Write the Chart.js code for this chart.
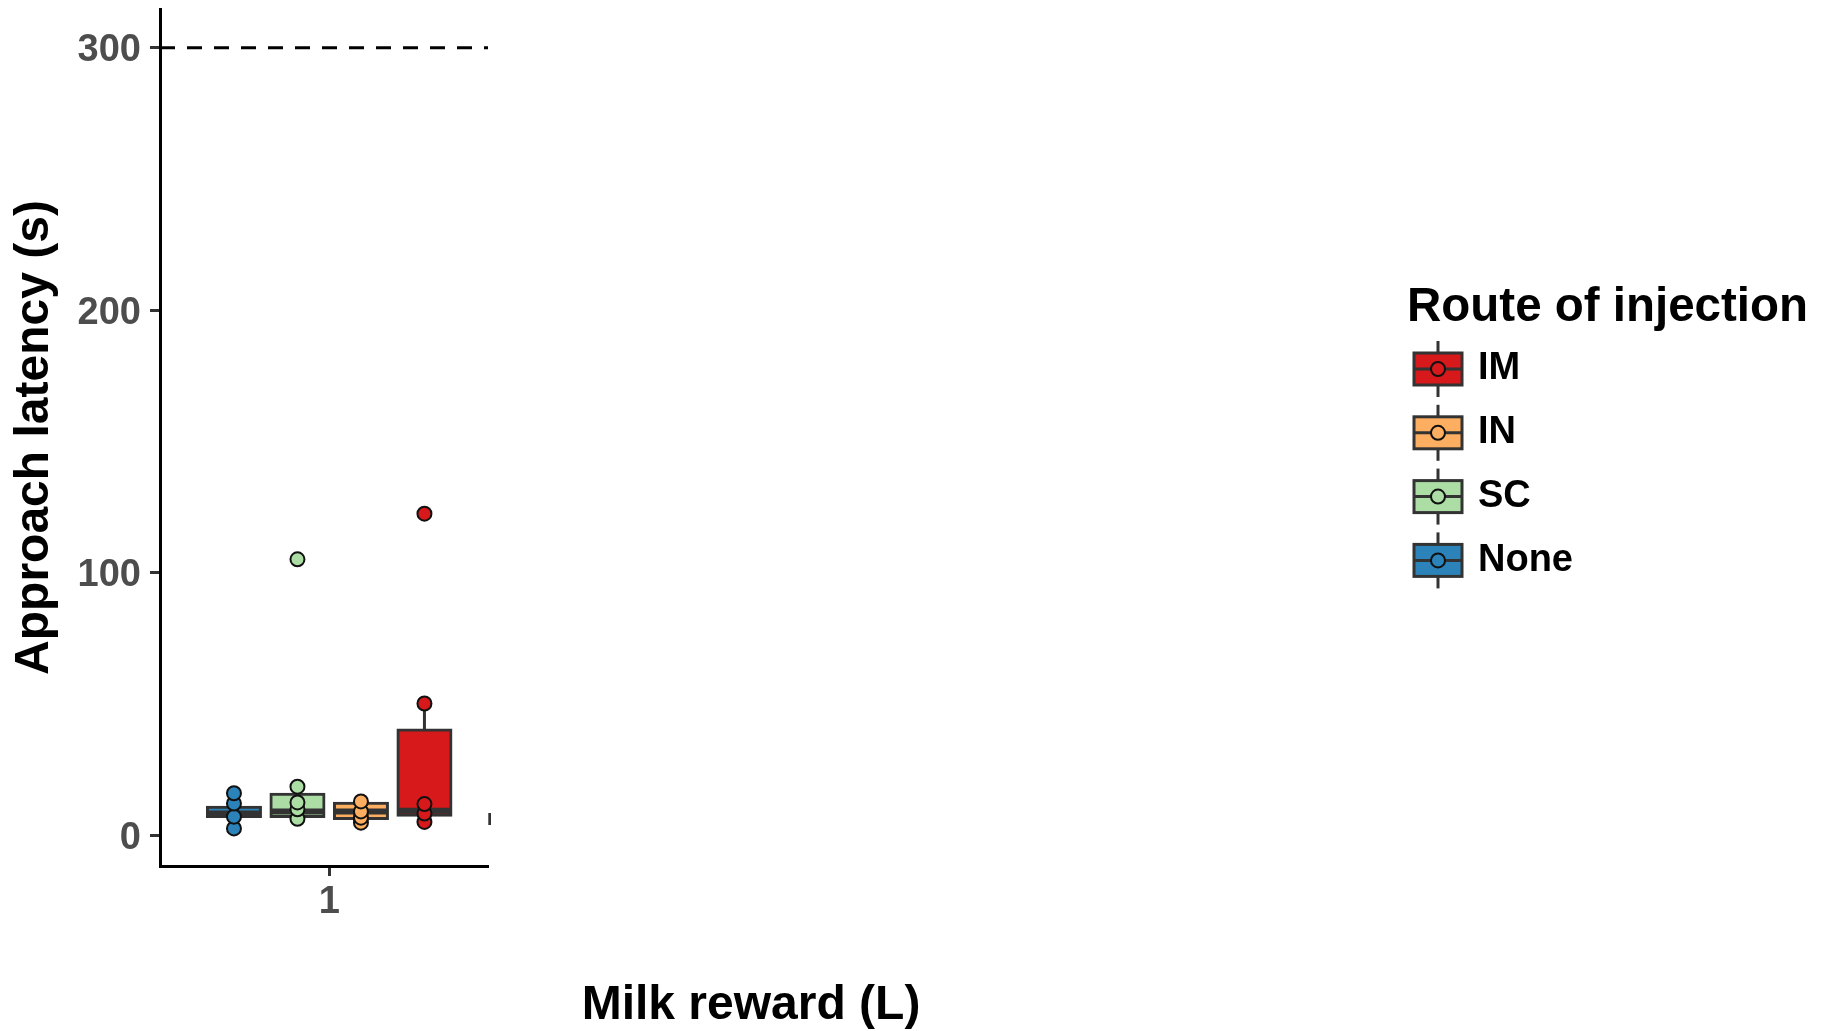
<!DOCTYPE html>
<html>
<head>
<meta charset="utf-8">
<title>Approach latency by route of injection</title>
<script src="https://cdn.jsdelivr.net/npm/chart.js@4/dist/chart.umd.min.js"></script>
<style>
  html, body { margin: 0; padding: 0; background: #ffffff; }
  canvas { display: block; }
</style>
</head>
<body>
<canvas id="chart" width="1829" height="1031"></canvas>
<script>
// Milk reward levels on the x axis (level 2 only starts at the right edge of the panel)
const milkReward = [1, 2];

// Injection routes, in dodge order from left to right
const routes = ['None', 'SC', 'IN', 'IM'];
const legendOrder = ['IM', 'IN', 'SC', 'None'];

// Box statistics at milk reward 1 (seconds), one entry per route
const boxLower    = [7.3, 7.3, 6.5, 7.7];
const boxMedian   = [8.4, 9.2, 9.2, 9.4];
const boxUpper    = [10.8, 15.7, 12.3, 40.2];
const whiskerLow  = [2.7, 6.4, 4.9, 5.2];
const whiskerHigh = [16.1, 18.6, 13.0, 50.3];

// Individual approach latencies at milk reward 1 (seconds)
const latNone = [2.7, 7.2, 12.2, 16.1];
const latSC   = [6.4, 10.0, 12.6, 18.6, 105.2];
const latIN   = [4.9, 6.8, 9.2, 13.0];
const latIM   = [5.2, 8.4, 12.0, 50.3, 122.6];

// Hinges of the None box at milk reward 2
const noneBoxReward2 = [4.6, 8.0];

// Test cut-off time (seconds)
const latencyCap = 300;

// Axis ticks and visible ranges
const yTicks = [0, 100, 200, 300];
const xTicks = [1];
const xRange = [0.4004, 1.5627];
const yRange = [-11.6, 314.8];

// ---------------------------------------------------------------------------
const FONT = "'Liberation Sans', Arial, Helvetica, sans-serif";
const EDGE = '#333333';
const routeColors = ['#2b83ba', '#abdda4', '#fdae61', '#d7191c'];
const pointSets = [latNone, latSC, latIN, latIM];
const dodgeStep = 0.225;
const xPos = (reward, i) => reward + (i - (routes.length - 1) / 2) * dodgeStep;

const datasets = [];

// dashed reference line at the cut-off
datasets.push({
  type: 'line',
  label: 'cut-off',
  data: [{ x: xRange[0], y: latencyCap }, { x: xRange[1], y: latencyCap }],
  borderColor: '#000000',
  borderWidth: 3,
  borderDash: [15, 12],
  pointRadius: 0,
  order: 4,
  clip: 2
});

// boxes (lower hinge to upper hinge); inflateAmount centres the outline on the hinge
routes.forEach((r, i) => {
  const data = [{ x: xPos(milkReward[0], i), y: [boxLower[i], boxUpper[i]] }];
  if (r === 'None') data.push({ x: xPos(milkReward[1], i), y: noneBoxReward2 });
  datasets.push({
    type: 'bar',
    label: r,
    data,
    backgroundColor: routeColors[i],
    borderColor: EDGE,
    borderWidth: 3,
    borderSkipped: false,
    inflateAmount: 1.5,
    barThickness: 53,
    grouped: false,
    order: 2,
    clip: { left: 0, top: 0, right: 3, bottom: 0 }
  });
});

// individual observations
routes.forEach((r, i) => {
  datasets.push({
    type: 'scatter',
    label: r + ' observations',
    data: pointSets[i].map(v => ({ x: xPos(milkReward[0], i), y: v })),
    pointRadius: 7,
    pointBorderWidth: 2,
    pointBorderColor: '#111111',
    pointBackgroundColor: routeColors[i],
    order: 1,
    clip: 10
  });
});

// whiskers under the boxes, thick medians on top of them
const boxplotParts = {
  id: 'boxplotParts',
  beforeDatasetsDraw(chart) {
    const { ctx, scales: { x, y } } = chart;
    ctx.save();
    ctx.strokeStyle = EDGE;
    ctx.lineWidth = 3;
    routes.forEach((r, i) => {
      const px = x.getPixelForValue(xPos(milkReward[0], i));
      ctx.beginPath();
      ctx.moveTo(px, y.getPixelForValue(whiskerLow[i]));
      ctx.lineTo(px, y.getPixelForValue(whiskerHigh[i]));
      ctx.stroke();
    });
    ctx.restore();
  },
  afterDatasetDraw(chart, args) {
    const ds = chart.data.datasets[args.index];
    if (ds.type !== 'bar') return;
    const i = routes.indexOf(ds.label);
    const bar = args.meta.data[0];
    const half = bar.width / 2;
    const py = chart.scales.y.getPixelForValue(boxMedian[i]);
    const ctx = chart.ctx;
    ctx.save();
    ctx.strokeStyle = EDGE;
    ctx.lineWidth = 6;
    ctx.lineCap = 'butt';
    ctx.beginPath();
    ctx.moveTo(bar.x - half, py);
    ctx.lineTo(bar.x + half, py);
    ctx.stroke();
    ctx.restore();
  }
};

// x-axis title and the route legend
const titlesAndLegend = {
  id: 'titlesAndLegend',
  afterDraw(chart) {
    const ctx = chart.ctx;
    ctx.save();
    ctx.fillStyle = '#000000';
    ctx.textBaseline = 'alphabetic';
    ctx.font = `bold 48px ${FONT}`;
    ctx.textAlign = 'center';
    ctx.fillText('Milk reward (L)', 751, 1019);
    ctx.font = `bold 47.5px ${FONT}`;
    ctx.textAlign = 'left';
    ctx.fillText('Route of injection', 1407, 321);
    ctx.restore();

    legendOrder.forEach((name, k) => {
      const i = routes.indexOf(name);
      const cx = 1438;
      const cy = 369 + k * 63.8;
      ctx.save();
      ctx.strokeStyle = EDGE;
      ctx.lineWidth = 3;
      // whisker
      ctx.beginPath();
      ctx.moveTo(cx, cy - 28);
      ctx.lineTo(cx, cy + 28);
      ctx.stroke();
      // box
      ctx.fillStyle = routeColors[i];
      ctx.fillRect(cx - 24, cy - 16, 48, 32);
      ctx.strokeRect(cx - 24, cy - 16, 48, 32);
      // median
      ctx.beginPath();
      ctx.moveTo(cx - 24, cy);
      ctx.lineTo(cx + 24, cy);
      ctx.stroke();
      // point
      ctx.beginPath();
      ctx.arc(cx, cy, 7, 0, Math.PI * 2);
      ctx.fillStyle = routeColors[i];
      ctx.fill();
      ctx.lineWidth = 2;
      ctx.strokeStyle = '#111111';
      ctx.stroke();
      // label
      ctx.font = `bold 38px ${FONT}`;
      ctx.fillStyle = '#000000';
      ctx.textAlign = 'left';
      ctx.textBaseline = 'middle';
      ctx.fillText(name, 1478, cy);
      ctx.restore();
    });
  }
};

const axisGrid = {
  display: true,
  drawOnChartArea: false,
  drawTicks: true,
  tickLength: 10,
  tickWidth: 3,
  tickColor: EDGE,
  offset: false
};
const axisBorder = { display: true, color: '#000000', width: 3 };
const tickFont = { family: FONT, size: 38, weight: 'bold' };

new Chart(document.getElementById('chart'), {
  type: 'bar',
  data: { datasets },
  options: {
    responsive: false,
    animation: false,
    devicePixelRatio: 1,
    events: [],
    layout: { padding: { top: 8, right: 1829 - 488, bottom: 0, left: 0 } },
    plugins: {
      legend: { display: false },
      tooltip: { enabled: false }
    },
    scales: {
      x: {
        type: 'linear',
        min: xRange[0],
        max: xRange[1],
        offset: false,
        afterBuildTicks: s => { s.ticks = xTicks.map(v => ({ value: v })); },
        afterFit: s => { s.height = 165; s.paddingLeft = 0; s.paddingRight = 0; },
        grid: axisGrid,
        border: axisBorder,
        ticks: { font: tickFont, color: '#4d4d4d', padding: 4, maxRotation: 0, autoSkip: false },
        title: { display: false }
      },
      y: {
        type: 'linear',
        min: yRange[0],
        max: yRange[1],
        afterBuildTicks: s => { s.ticks = yTicks.map(v => ({ value: v })); },
        afterFit: s => { s.width = 160; s.paddingTop = 0; s.paddingBottom = 0; },
        grid: axisGrid,
        border: axisBorder,
        ticks: { font: tickFont, color: '#4d4d4d', padding: 9, labelOffset: 3, autoSkip: false },
        title: {
          display: true,
          text: 'Approach latency (s)',
          color: '#000000',
          font: { family: FONT, size: 48, weight: 'bold' },
          padding: { top: 6, bottom: 0 }
        }
      }
    }
  },
  plugins: [boxplotParts, titlesAndLegend]
});
</script>
</body>
</html>
